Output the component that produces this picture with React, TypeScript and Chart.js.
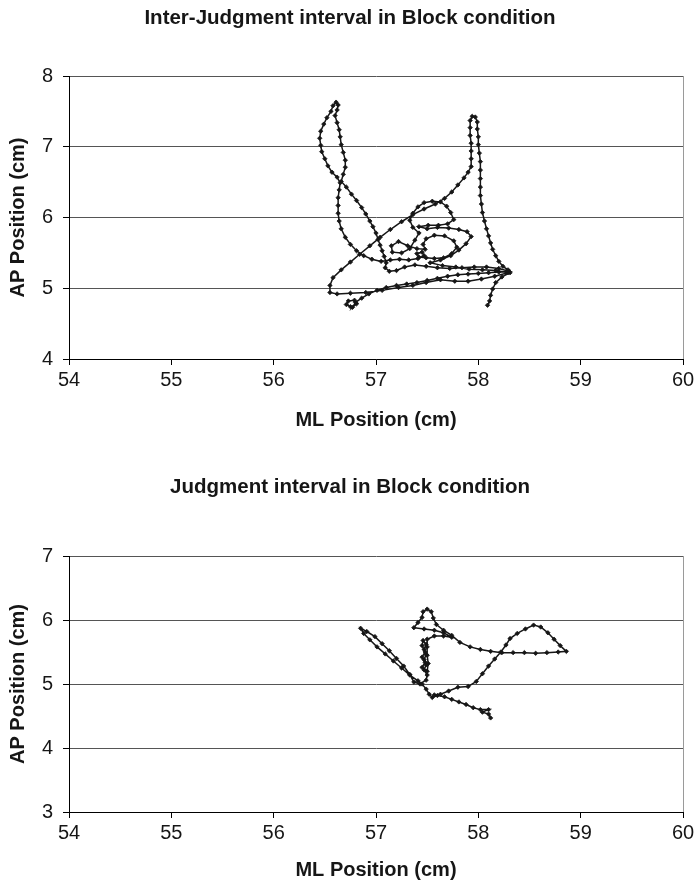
import React, { useEffect, useRef } from "react";
import { Chart, registerables } from "chart.js";

Chart.register(...registerables);

// Centre-of-pressure trajectories (ML = medio-lateral, AP = antero-posterior), in cm.

// Inter-judgment interval, Block condition
const interML = [
  56.75, 56.71, 56.73, 56.79, 56.81, 56.77, 56.8, 56.86, 56.93, 57.01, 57.1, 57.2, 57.3, 57.4, 57.5, 57.6,
  57.7, 57.8, 57.9, 58.0, 58.1, 58.2, 58.3, 58.2, 58.08, 57.96, 57.84, 57.72, 57.6, 57.49, 57.38, 57.28,
  57.2, 57.13, 57.09, 57.1, 57.08, 57.06, 57.04, 57.02, 57.0, 56.97, 56.94, 56.9, 56.86, 56.81, 56.76, 56.71,
  56.66, 56.68, 56.7, 56.7, 56.68, 56.66, 56.65, 56.64, 56.62, 56.6, 56.62, 56.63, 56.61, 56.58, 56.56, 56.52,
  56.49, 56.46, 56.45, 56.46, 56.47, 56.5, 56.53, 56.57, 56.62, 56.65, 56.64, 56.63, 56.63, 56.63, 56.64, 56.66,
  56.7, 56.75, 56.81, 56.88, 56.96, 57.05, 57.14, 57.23, 57.32, 57.41, 57.47, 57.45, 57.4, 57.42, 57.49, 57.57,
  57.66, 57.74, 57.79, 57.76, 57.67, 57.57, 57.49, 57.46, 57.48, 57.4, 57.31, 57.22, 57.15, 57.16, 57.25, 57.33,
  57.38, 57.42, 57.36, 57.33, 57.36, 57.41, 57.47, 57.55, 57.63, 57.69, 57.73, 57.76, 57.7, 57.61, 57.51, 57.42,
  57.5, 57.6, 57.71, 57.81, 57.89, 57.93, 57.88, 57.81, 57.73, 57.63, 57.53, 57.65, 57.78, 57.91, 58.04, 58.17,
  58.29, 58.16, 58.03, 57.9, 57.77, 57.63, 57.49, 57.36, 57.22, 57.06, 56.9, 56.75, 56.62, 56.55, 56.55, 56.58,
  56.66, 56.75, 56.84, 56.94, 57.04, 57.14, 57.25, 57.36, 57.47, 57.58, 57.67, 57.74, 57.8, 57.86, 57.9, 57.93,
  57.93, 57.93, 57.93, 57.92, 57.92, 57.92, 57.94, 57.97, 57.99, 57.99, 58.0, 58.0, 58.01, 58.02, 58.02, 58.02,
  58.02, 58.02, 58.03, 58.04, 58.06, 58.08, 58.1, 58.12, 58.14, 58.17, 58.2, 58.24, 58.29, 58.31, 58.23, 58.17,
  58.14, 58.12, 58.11, 58.09,
];
const interAP = [
  4.74, 4.77, 4.82, 4.83, 4.78, 4.73, 4.8, 4.86, 4.92, 4.97, 5.01, 5.04, 5.06, 5.08, 5.11, 5.14,
  5.17, 5.19, 5.2, 5.21, 5.22, 5.23, 5.24, 5.28, 5.3, 5.3, 5.29, 5.28, 5.29, 5.31, 5.33, 5.3,
  5.25, 5.24, 5.29, 5.36, 5.45, 5.53, 5.61, 5.69, 5.78, 5.87, 5.95, 6.05, 6.14, 6.24, 6.33, 6.43,
  6.51, 6.61, 6.71, 6.81, 6.92, 7.03, 7.14, 7.24, 7.34, 7.44, 7.52, 7.59, 7.63, 7.58, 7.5, 7.41,
  7.32, 7.22, 7.12, 7.02, 6.93, 6.83, 6.73, 6.64, 6.57, 6.49, 6.39, 6.28, 6.17, 6.06, 5.95, 5.84,
  5.72, 5.62, 5.53, 5.46, 5.41, 5.38, 5.4, 5.41, 5.4, 5.42, 5.46, 5.51, 5.49, 5.44, 5.43, 5.42,
  5.43, 5.49, 5.58, 5.67, 5.74, 5.75, 5.7, 5.62, 5.55, 5.56, 5.6, 5.66, 5.6, 5.51, 5.5, 5.56,
  5.68, 5.78, 5.86, 5.96, 6.06, 6.15, 6.21, 6.23, 6.22, 6.16, 6.07, 5.97, 5.91, 5.89, 5.89, 5.87,
  5.84, 5.86, 5.85, 5.83, 5.8, 5.73, 5.63, 5.54, 5.46, 5.4, 5.36, 5.32, 5.3, 5.27, 5.26, 5.25,
  5.22, 5.17, 5.13, 5.1, 5.1, 5.12, 5.08, 5.04, 5.01, 4.97, 4.94, 4.93, 4.92, 4.94, 5.04, 5.15,
  5.26, 5.37, 5.48, 5.6, 5.72, 5.83, 5.94, 6.04, 6.12, 6.19, 6.27, 6.36, 6.46, 6.56, 6.64, 6.72,
  6.83, 6.94, 7.05, 7.16, 7.27, 7.37, 7.43, 7.42, 7.35, 7.25, 7.14, 7.03, 6.91, 6.79, 6.67, 6.55,
  6.43, 6.31, 6.19, 6.07, 5.95, 5.84, 5.74, 5.64, 5.55, 5.46, 5.38, 5.31, 5.26, 5.22, 5.16, 5.08,
  4.99, 4.9, 4.82, 4.76,
];

// Judgment interval, Block condition
const judgML = [
  58.12, 58.1, 58.04, 58.1, 58.02, 57.95, 57.88, 57.81, 57.74, 57.67, 57.6, 57.55, 57.52, 57.49, 57.45, 57.41,
  57.33, 57.25, 57.17, 57.09, 57.01, 56.94, 56.88, 56.85, 56.91, 56.99, 57.06, 57.13, 57.2, 57.27, 57.33, 57.37,
  57.43, 57.49, 57.5, 57.47, 57.49, 57.47, 57.49, 57.47, 57.49, 57.46, 57.45, 57.48, 57.45, 57.48, 57.45, 57.5,
  57.51, 57.5, 57.5, 57.5, 57.57, 57.66, 57.74, 57.66, 57.57, 57.47, 57.37, 57.41, 57.45, 57.46, 57.5, 57.54,
  57.56, 57.59, 57.66, 57.74, 57.82, 57.92, 58.02, 58.12, 58.23, 58.34, 58.45, 58.56, 58.67, 58.78, 58.86, 58.8,
  58.74, 58.68, 58.61, 58.54, 58.46, 58.38, 58.31, 58.27, 58.22, 58.16, 58.1, 58.04, 57.98, 57.9, 57.8, 57.71,
  57.63, 57.57,
];
const judgAP = [
  4.47, 4.53, 4.56, 4.6, 4.6, 4.63, 4.68, 4.72, 4.76, 4.8, 4.82, 4.79, 4.84, 4.92, 5.0, 5.05,
  5.14, 5.25, 5.36, 5.47, 5.58, 5.69, 5.79, 5.87, 5.82, 5.74, 5.63, 5.52, 5.4, 5.28, 5.15, 5.03,
  5.0, 5.06, 5.14, 5.22, 5.3, 5.38, 5.46, 5.54, 5.62, 5.68, 5.6, 5.5, 5.42, 5.34, 5.26, 5.2,
  5.32, 5.45, 5.58, 5.7, 5.75, 5.75, 5.73, 5.8, 5.84, 5.86, 5.88, 5.96, 6.04, 6.13, 6.17, 6.13,
  6.03, 5.93, 5.84, 5.76, 5.65, 5.58, 5.54, 5.51, 5.49, 5.49, 5.49, 5.48, 5.49, 5.5, 5.51, 5.6,
  5.7, 5.8, 5.89, 5.92, 5.86, 5.79, 5.71, 5.61, 5.5, 5.39, 5.28, 5.16, 5.04, 4.96, 4.95, 4.89,
  4.84, 4.83,
];

const mlRange = [54, 60];
const interApRange = [4, 8];
const judgApRange = [3, 7];

const FONT = "'Liberation Sans', Arial, Helvetica, sans-serif";
const INK = "#161616";

type PanelProps = {
  title: string;
  ml: number[];
  ap: number[];
  apRange: number[];
  height: number;
  titlePad: { top: number; bottom: number };
  xBox: number;
  xTitlePad: number;
};

function TrajectoryPanel({ title, ml, ap, apRange, height, titlePad, xBox, xTitlePad }: PanelProps) {
  const ref = useRef<HTMLCanvasElement | null>(null);

  useEffect(() => {
    if (!ref.current) return;
    const points = ml.map((x, i) => ({ x, y: ap[i] }));
    const chart = new Chart(ref.current, {
      type: "scatter",
      data: {
        datasets: [
          {
            data: points,
            showLine: true,
            borderColor: INK,
            borderWidth: 1.5,
            pointRadius: 2.2,
            pointStyle: "rectRot",
            pointBackgroundColor: INK,
            pointBorderColor: INK,
            pointBorderWidth: 0.8,
            tension: 0,
          },
        ],
      },
      options: {
        animation: false,
        responsive: false,
        events: [],
        layout: { padding: { left: 6, right: 0, top: 0, bottom: 0 } },
        plugins: {
          legend: { display: false },
          tooltip: { enabled: false },
          title: {
            display: true,
            text: title,
            color: INK,
            font: { family: FONT, size: 20.5, weight: "bold" },
            padding: titlePad,
          },
        },
        scales: {
          x: {
            type: "linear",
            min: mlRange[0],
            max: mlRange[1],
            ticks: { stepSize: 1, color: INK, padding: 3, font: { family: FONT, size: 20 } },
            grid: {
              color: (c: any) => (c.tick && c.tick.value === mlRange[1] ? "#9a9a9a" : "rgba(0,0,0,0)"),
              tickColor: "#000",
              tickLength: 6,
            },
            border: { color: "#000", width: 1 },
            title: {
              display: true,
              text: "ML Position (cm)",
              color: INK,
              font: { family: FONT, size: 20, weight: "bold" },
              padding: { top: 0, bottom: xTitlePad },
            },
            afterFit: (s: any) => {
              s.height = xBox;
              s.paddingLeft = 0;
              s.paddingRight = 11;
            },
          },
          y: {
            type: "linear",
            min: apRange[0],
            max: apRange[1],
            ticks: { stepSize: 1, color: INK, padding: 10, font: { family: FONT, size: 20 } },
            grid: { color: "#555", tickColor: "#000", tickLength: 6 },
            border: { color: "#000", width: 1 },
            title: {
              display: true,
              text: "AP Position (cm)",
              color: INK,
              font: { family: FONT, size: 20, weight: "bold" },
              padding: { top: 0, bottom: 0 },
            },
            afterFit: (s: any) => {
              s.width = 63;
            },
          },
        },
      },
    });
    return () => chart.destroy();
  }, []);

  return <canvas ref={ref} width={694} height={height} style={{ display: "block", width: 694, height }} />;
}

export default function App() {
  return (
    <div style={{ position: "absolute", left: 0, top: 0, width: 694, height: 887, background: "#fff", overflow: "hidden" }}>
      <TrajectoryPanel
        title="Inter-Judgment interval in Block condition"
        ml={interML}
        ap={interAP}
        apRange={interApRange}
        height={440}
        titlePad={{ top: 6, bottom: 45.4 }}
        xBox={81}
        xTitlePad={8}
      />
      <TrajectoryPanel
        title="Judgment interval in Block condition"
        ml={judgML}
        ap={judgAP}
        apRange={judgApRange}
        height={447}
        titlePad={{ top: 34.7, bottom: 56.7 }}
        xBox={75}
        xTitlePad={5}
      />
    </div>
  );
}
